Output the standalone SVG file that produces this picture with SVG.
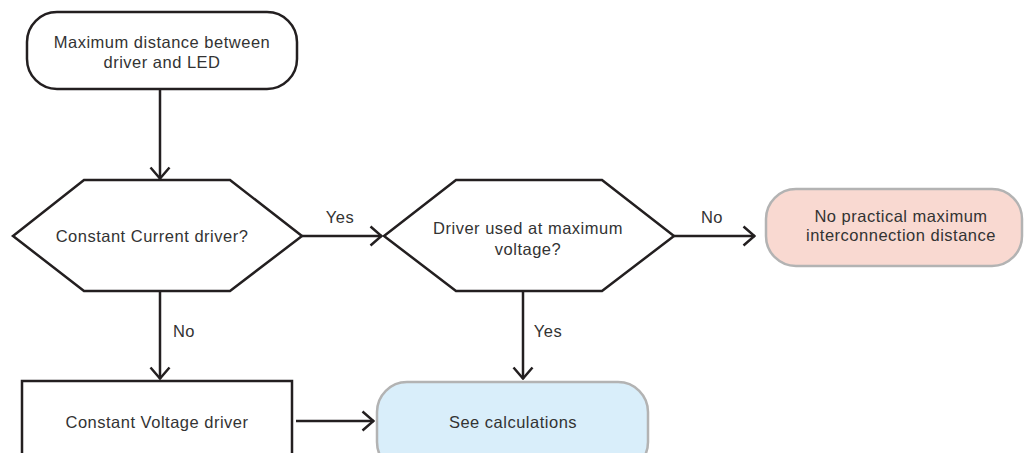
<svg xmlns="http://www.w3.org/2000/svg" width="1027" height="453" viewBox="0 0 1027 453">
<defs>
<style>
.shape{fill:#fff;stroke:#231f20;stroke-width:2.5}
.term{stroke:#231f20;stroke-width:2.5;fill:#fff}
.pink{fill:#f9d9d1;stroke:#b3b3b3;stroke-width:2.5}
.blue{fill:#d9eefa;stroke:#b3b3b3;stroke-width:2.5}
.edge{stroke:#231f20;stroke-width:2.5;fill:none}
text{font-family:"Liberation Sans",Arial,sans-serif;font-size:16.5px;letter-spacing:0.5px;fill:#333;text-anchor:middle}
</style>
<marker id="arr" viewBox="0 0 14 22" refX="13" refY="11" markerWidth="14" markerHeight="22" markerUnits="userSpaceOnUse" orient="auto">
<path d="M1.5,1.5 L12.5,11 L1.5,20.5" fill="none" stroke="#231f20" stroke-width="2.5"/>
</marker>
</defs>
<rect width="1027" height="453" fill="#fff"/>
<g id="connectors">
<line class="edge" x1="160" y1="89" x2="160" y2="179" marker-end="url(#arr)"/>
<line class="edge" x1="302" y1="236" x2="382" y2="236" marker-end="url(#arr)"/>
<text x="340" y="223">Yes</text>
<line class="edge" x1="674" y1="236" x2="755" y2="236" marker-end="url(#arr)"/>
<text x="712" y="223">No</text>
<line class="edge" x1="160" y1="291" x2="160" y2="379" marker-end="url(#arr)"/>
<text x="184" y="337">No</text>
<line class="edge" x1="523" y1="291" x2="523" y2="379" marker-end="url(#arr)"/>
<text x="548" y="337">Yes</text>
<line class="edge" x1="296" y1="421" x2="374" y2="421" marker-end="url(#arr)"/>
</g>
<g id="start">
<rect class="term" x="27" y="12" width="270" height="77" rx="30" ry="30"/>
<text x="162" y="48">Maximum distance between</text>
<text x="162" y="68">driver and LED</text>
</g>
<g id="decision1">
<polygon class="shape" points="84,180 230,180 302,236 230,291 84,291 13,236"/>
<text x="152" y="242">Constant Current driver?</text>
</g>
<g id="decision2">
<polygon class="shape" points="456,180 602,180 674,236 602,291 456,291 384,236"/>
<text x="528" y="234">Driver used at maximum</text>
<text x="528" y="255">voltage?</text>
</g>
<g id="no-max">
<rect class="pink" x="766" y="189" width="256" height="77" rx="30" ry="30"/>
<text x="901" y="222">No practical maximum</text>
<text x="901" y="241">interconnection distance</text>
</g>
<g id="cv-driver">
<rect class="shape" x="22" y="381" width="270" height="90"/>
<text x="157" y="428">Constant Voltage driver</text>
</g>
<g id="see-calc">
<rect class="blue" x="377" y="382" width="271" height="90" rx="30" ry="30"/>
<text x="513" y="428">See calculations</text>
</g>
</svg>
